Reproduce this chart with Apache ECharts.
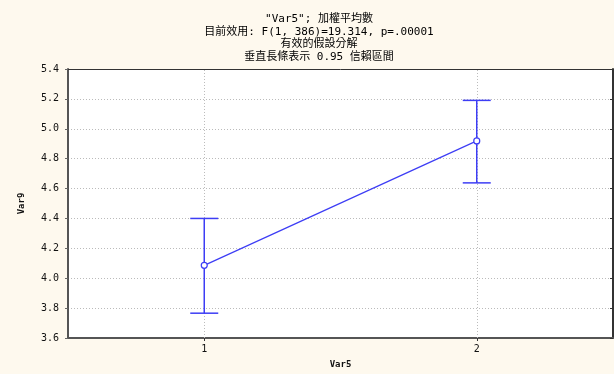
<!DOCTYPE html>
<html><head><meta charset="utf-8">
<script src="https://cdn.jsdelivr.net/npm/echarts@6/dist/echarts.min.js"></script>
<style>html,body{margin:0;padding:0;background:#fef9ee}#c{width:614px;height:374px}</style>
</head><body><div id="c"></div>
<script>
const categories = ['1', '2'];
const means = [4.086, 4.919];
const lowers = [3.766, 4.638];
const uppers = [4.400, 5.190];
const titleLines = ['"Var5"; 加權平均數', '目前效用: F(1, 386)=19.314, p=.00001', '有效的假設分解', '垂直長條表示 0.95 信賴區間'];

const chart = echarts.init(document.getElementById('c'), null, {renderer: 'canvas'});
const blue = '#3d3df5';
const font = '"DejaVu Sans Mono", "Noto Sans CJK TC", monospace';
chart.setOption({
  backgroundColor: '#fef9ee',
  animation: false,
  title: {
    text: titleLines.join('\n'), left: 314, top: 8, textAlign: 'center',
    textStyle: {fontFamily: font, fontSize: 11, fontWeight: 'normal', color: '#000', lineHeight: 12.5}
  },
  grid: {left: 68, right: 1, top: 69, bottom: 31, show: true, backgroundColor: '#fff', borderWidth: 0},
  xAxis: {
    type: 'category', data: categories, boundaryGap: true,
    name: 'Var5', nameLocation: 'middle', nameGap: 22,
    nameTextStyle: {fontFamily: font, fontSize: 9, color: '#111', fontWeight: 'bold'},
    axisLine: {lineStyle: {color: '#555', width: 2}},
    axisTick: {show: true, alignWithLabel: true, length: 3, lineStyle: {color: '#333'}},
    axisLabel: {fontFamily: font, fontSize: 10, color: '#111', margin: 6},
    splitLine: {show: false}
  },
  yAxis: [{
    type: 'value', min: 3.6, max: 5.4, interval: 0.2,
    name: 'Var9', nameLocation: 'middle', nameGap: 42, nameRotate: 90,
    nameTextStyle: {fontFamily: font, fontSize: 9, color: '#111', fontWeight: 'bold'},
    axisLine: {show: true, lineStyle: {color: '#555', width: 2}},
    axisTick: {show: true, length: 3, inside: false, lineStyle: {color: '#666'}},
    axisLabel: {fontFamily: font, fontSize: 10, color: '#111', margin: 9, formatter: v => v.toFixed(1)},
    splitLine: {show: true, lineStyle: {color: '#bbb', type: [1, 2]}}
  }, {
    type: 'value', min: 3.6, max: 5.4, interval: 0.2, position: 'right',
    axisLine: {show: true, lineStyle: {color: '#333', width: 2}},
    axisTick: {show: true, inside: true, length: 3, lineStyle: {color: '#333'}},
    axisLabel: {show: false}, splitLine: {show: false}
  }],
  series: [{
    type: 'custom', yAxisIndex: 0, z: 3,
    data: categories.map((c, i) => [i, lowers[i], uppers[i]]),
    renderItem: (params, api) => {
      const lo = api.coord([api.value(0), api.value(1)]);
      const hi = api.coord([api.value(0), api.value(2)]);
      const hw = 14;
      const st = {stroke: blue, lineWidth: 1.5, fill: null};
      return {type: 'group', children: [
        {type: 'line', shape: {x1: lo[0], y1: lo[1], x2: hi[0], y2: hi[1]}, style: st},
        {type: 'line', shape: {x1: lo[0]-hw, y1: lo[1], x2: lo[0]+hw, y2: lo[1]}, style: st},
        {type: 'line', shape: {x1: hi[0]-hw, y1: hi[1], x2: hi[0]+hw, y2: hi[1]}, style: st}
      ]};
    }
  }, {
    type: 'line', yAxisIndex: 0, z: 4, data: means,
    symbol: 'circle', symbolSize: 6, showSymbol: true,
    lineStyle: {color: blue, width: 1.2},
    itemStyle: {color: '#fff', borderColor: blue, borderWidth: 1.2},
    markLine: {
      silent: true, symbol: 'none', z: 1, label: {show: false},
      lineStyle: {color: '#bbb', type: [1, 2], width: 1},
      data: categories.map(c => ({xAxis: c}))
    }
  }, {
    type: 'line', yAxisIndex: 1, data: [], silent: true
  }],
  graphic: [{type: 'line', shape: {x1: 68, y1: 69.5, x2: 613, y2: 69.5}, style: {stroke: '#333', lineWidth: 1}, z: 10}]
});
</script></body></html>
